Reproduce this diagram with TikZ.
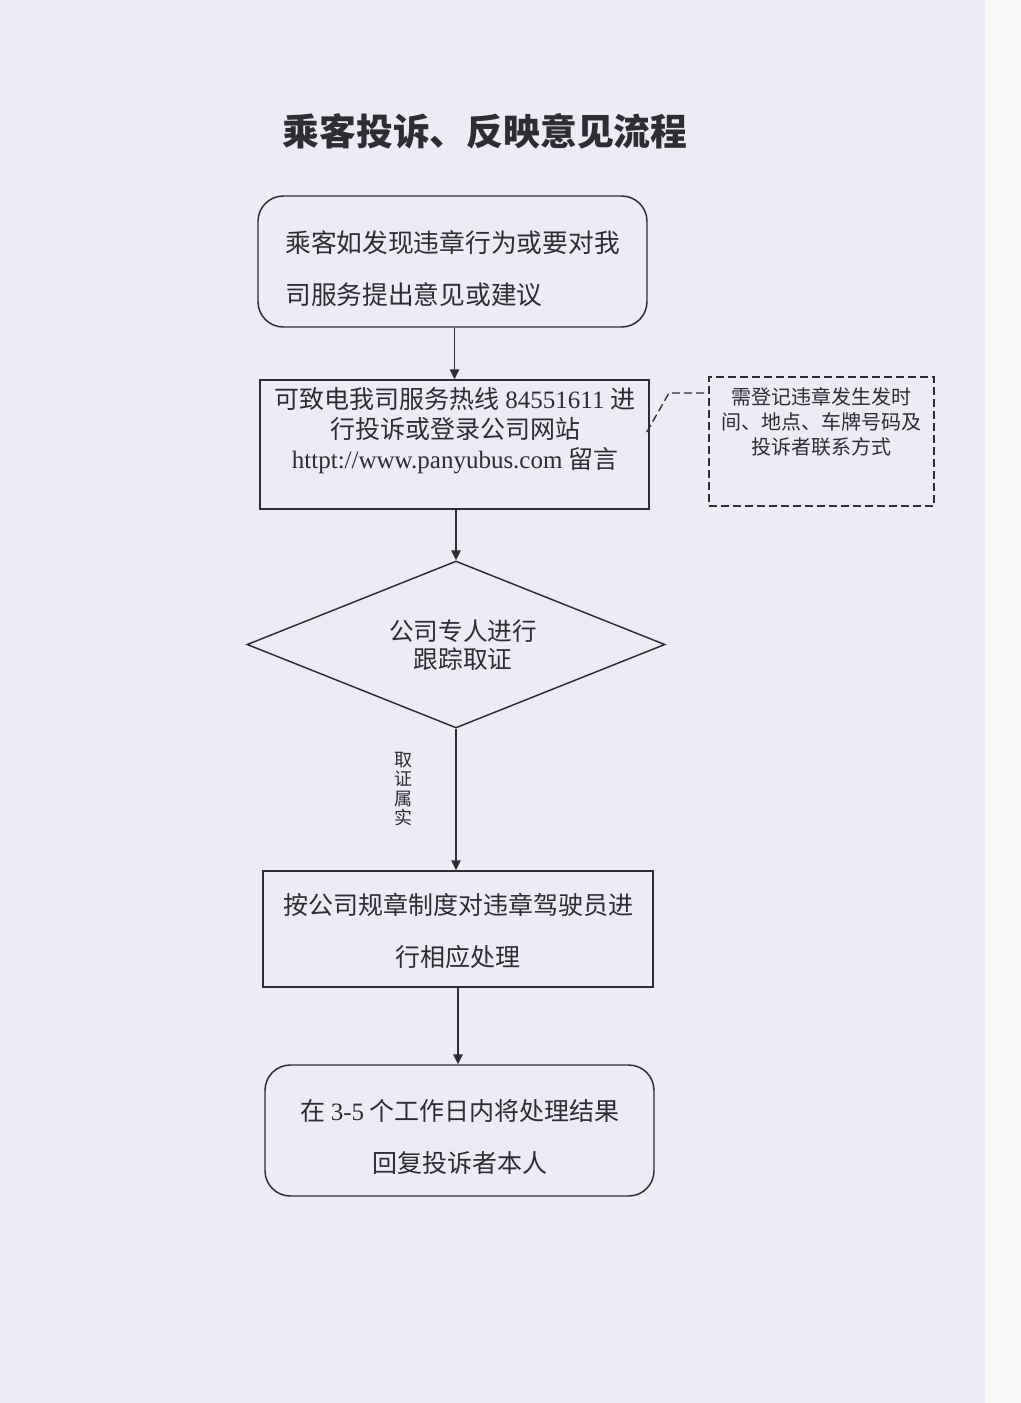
\documentclass[tikz,border=0pt]{standalone}
\usepackage{fontspec}
\setmainfont{Noto Sans CJK SC}
\newfontfamily\tm{Liberation Serif}
\usetikzlibrary{shapes.geometric,arrows.meta,calc}
\definecolor{paper}{RGB}{236,235,246}
\definecolor{paperedge}{RGB}{247,247,250}
\definecolor{ink}{RGB}{45,45,50}
\begin{document}
\begin{tikzpicture}[x=0.75pt,y=-0.75pt,
  every node/.style={text=ink},
  boxline/.style={draw=ink,line width=1.1pt},
  rbox/.style={boxline,rectangle,rounded corners=19pt,inner sep=0pt},
  sbox/.style={boxline,rectangle,inner sep=0pt},
  notebox/.style={draw=ink,line width=1pt,dash pattern=on 6pt off 3pt,rectangle,inner sep=0pt},
  noteline/.style={draw=ink,line width=1pt,dash pattern=on 6pt off 3pt},
  flow/.style={draw=ink,line width=1.1pt,-{Triangle[length=7.5pt,width=7pt]}},
  maintxt/.style={font=\fontsize{18.75pt}{39pt}\selectfont,inner sep=0pt},
  bigtxt/.style={font=\fontsize{19.3pt}{39pt}\selectfont,inner sep=0pt},
  tighttxt/.style={font=\fontsize{18.75pt}{22.5pt}\selectfont,inner sep=0pt},
  dtxt/.style={font=\fontsize{18.5pt}{21pt}\selectfont,inner sep=0pt},
  ntxt/.style={font=\fontsize{15pt}{19pt}\selectfont,inner sep=0pt},
  lbltxt/.style={font=\fontsize{13.5pt}{14.6pt}\selectfont,inner sep=0pt},
  titletxt/.style={font=\fontsize{27.6pt}{30pt}\selectfont\bfseries,inner sep=0pt}
]
\fill[paper] (0,0) rectangle (1021,1403);
\fill[paperedge] (985,0) rectangle (1021,1403);
\useasboundingbox (0,0) rectangle (1021,1403);

% title
\node[titletxt] (title) at (485,131) {乘客投诉、反映意见流程};

% boxes
\node[rbox,minimum width=291.75pt,minimum height=98.25pt] (b1) at (452.5,261.5) {};
\node[sbox,minimum width=291.75pt,minimum height=96.75pt] (b2) at (454.5,444.5) {};
\node[notebox,minimum width=168.75pt,minimum height=96.75pt] (note) at (821.5,441.5) {};
\node[diamond,boxline,minimum width=313.5pt,minimum height=125.25pt,inner sep=0pt] (d) at (456,644.5) {};
\node[sbox,minimum width=292.5pt,minimum height=87pt] (b4) at (458,929) {};
\node[rbox,minimum width=291.75pt,minimum height=98.25pt] (b5) at (459.5,1130.5) {};

% texts
\node[bigtxt,align=left,anchor=west] (t1) at (285,269) {乘客如发现违章行为或要对我\\司服务提出意见或建议};
\node[tighttxt,align=center] (t2) at (455,431) {可致电我司服务热线 {\tm 84551611} 进\\行投诉或登录公司网站\\{\tm httpt://www.panyubus.com} 留言};
\node[ntxt,align=center] (t5) at (821,422) {需登记违章发生发时\\间、地点、车牌号码及\\投诉者联系方式};
\node[dtxt,align=center] (t3) at (463,645) {公司专人进行\\跟踪取证};
\node[lbltxt,align=center] (t4) at (403.5,789) {取\\证\\属\\实};
\node[maintxt,align=center] (t6) at (458,931) {按公司规章制度对违章驾驶员进\\行相应处理};
\node[maintxt,align=center] (t7) at (460,1137) {在 {\tm 3-5} 个工作日内将处理结果\\回复投诉者本人};

% connectors
\draw[flow] (b2.north |- b1.south) -- (b2.north);
\draw[flow] (d.north |- b2.south) -- (d.north);
\draw[flow] (d.south) -- (d.south |- b4.north);
\draw[flow] (b4.south) -- (b4.south |- b5.north);

\coordinate (bend) at (669,393);
\draw[noteline] ($(b2.east)+(-3,-12.5)$) -- (bend) -- (bend -| note.west);
\end{tikzpicture}
\end{document}
